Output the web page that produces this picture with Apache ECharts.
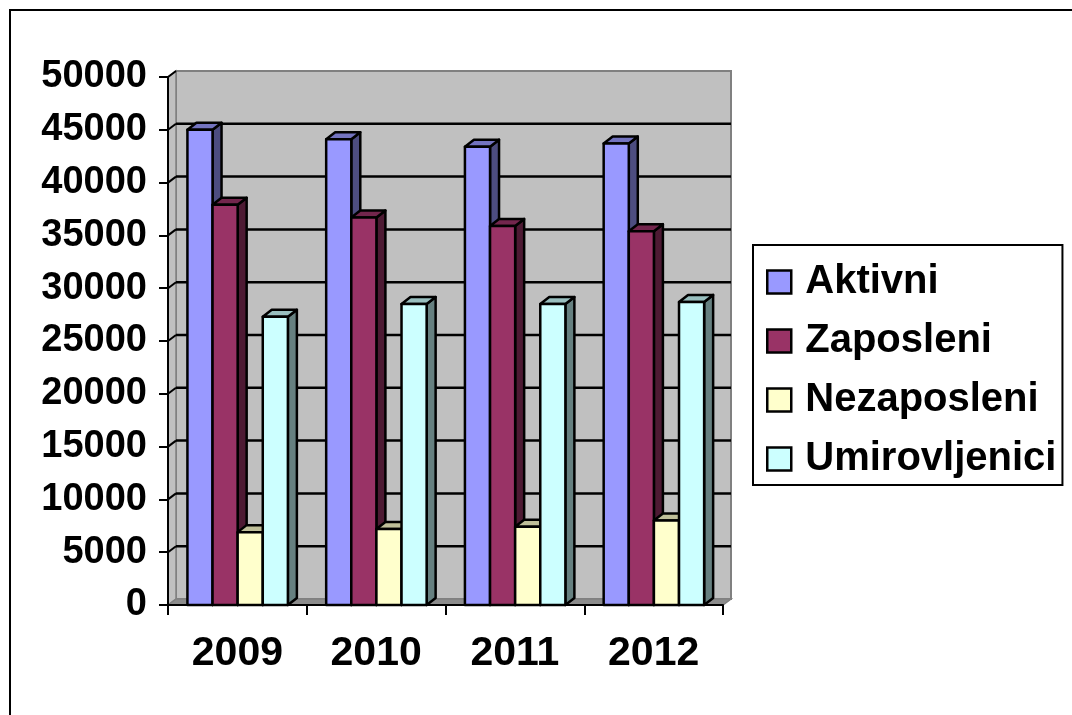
<!DOCTYPE html>
<html>
<head>
<meta charset="utf-8">
<script src="https://cdn.jsdelivr.net/npm/echarts@6/dist/echarts.min.js"></script>
<style>
  html, body { margin: 0; padding: 0; background: #fff; }
  #chart { width: 1072px; height: 715px; }
</style>
</head>
<body>
<div id="chart"></div>
<script>
// Data
const years = ['2009', '2010', '2011', '2012'];
const aktivni = [45000, 44100, 43400, 43700];
const zaposleni = [37900, 36700, 35900, 35400];
const nezaposleni = [6900, 7200, 7400, 8000];
const umirovljenici = [27300, 28500, 28500, 28700];
const yTicks = [0, 5000, 10000, 15000, 20000, 25000, 30000, 35000, 40000, 45000, 50000];

const FONT = "'Liberation Sans', Arial, sans-serif";

// 3D look: depth of walls and bars in pixels
const WALL_DX = 8, WALL_DY = -6;
const BAR_DX = 9, BAR_DY = -7;
const GAP_RATIO = 0.14;   // space before first bar in a category
const BAR_RATIO = 0.181;  // bar width as part of category width

function shade(hex, k) {
  const n = parseInt(hex.slice(1), 16);
  const r = Math.round(((n >> 16) & 255) * k);
  const g = Math.round(((n >> 8) & 255) * k);
  const b = Math.round((n & 255) * k);
  return 'rgb(' + r + ',' + g + ',' + b + ')';
}

function barRenderer(idx, color) {
  return function (params, api) {
    const cat = api.value(0);
    const val = api.value(1);
    const base = api.coord([cat, 0]);
    const top = api.coord([cat, val]);
    const catW = api.size([1, 0])[0];
    const bw = catW * BAR_RATIO;
    const x = base[0] - catW / 2 + catW * GAP_RATIO + idx * bw;
    const yt = top[1], yb = base[1];
    const stroke = { stroke: '#000', lineWidth: 2.5, lineJoin: 'round' };
    return {
      type: 'group',
      children: [
        {
          type: 'polygon',
          shape: { points: [[x + bw, yt], [x + bw + BAR_DX, yt + BAR_DY], [x + bw + BAR_DX, yb + BAR_DY], [x + bw, yb]] },
          style: Object.assign({ fill: shade(color, 0.5) }, stroke)
        },
        {
          type: 'polygon',
          shape: { points: [[x, yt], [x + BAR_DX, yt + BAR_DY], [x + bw + BAR_DX, yt + BAR_DY], [x + bw, yt]] },
          style: Object.assign({ fill: shade(color, 0.75) }, stroke)
        },
        {
          type: 'rect',
          shape: { x: x, y: yt, width: bw, height: yb - yt },
          style: Object.assign({ fill: color }, stroke)
        }
      ]
    };
  };
}

function wallsRenderer(params, api) {
  const cs = params.coordSys;
  const x0 = cs.x, x1 = cs.x + cs.width;
  const yT = cs.y, yB = cs.y + cs.height;
  return {
    type: 'group',
    children: [
      {
        type: 'rect',
        shape: { x: x0 + WALL_DX, y: yT + WALL_DY, width: cs.width, height: cs.height },
        style: { fill: '#C0C0C0', stroke: '#808080', lineWidth: 2 }
      },
      {
        type: 'polygon',
        shape: { points: [[x0, yB], [x0, yT], [x0 + WALL_DX, yT + WALL_DY], [x0 + WALL_DX, yB + WALL_DY]] },
        style: { fill: '#C0C0C0', stroke: '#808080', lineWidth: 1.5 }
      },
      {
        type: 'polygon',
        shape: { points: [[x0, yB], [x0 + WALL_DX, yB + WALL_DY], [x1 + WALL_DX, yB + WALL_DY], [x1, yB]] },
        style: { fill: '#8C8C8C', stroke: '#808080', lineWidth: 1.5 }
      }
    ]
  };
}

function gridLineRenderer(params, api) {
  const cs = params.coordSys;
  const v = api.value(0);
  const y = api.coord([0, v])[1];
  const x0 = cs.x, x1 = cs.x + cs.width;
  const children = [];
  if (v > 0) {
    children.push({
      type: 'line',
      shape: { x1: x0, y1: y, x2: x0 + WALL_DX, y2: y + WALL_DY },
      style: { stroke: '#000', lineWidth: 2 }
    });
  }
  if (v > 0 && v < 50000) {
    children.push({
      type: 'line',
      shape: { x1: x0 + WALL_DX, y1: y + WALL_DY, x2: x1 + WALL_DX, y2: y + WALL_DY },
      style: { stroke: '#000', lineWidth: 2.5 }
    });
  }
  return { type: 'group', children: children };
}

const chart = echarts.init(document.getElementById('chart'));

const seriesDefs = [
  { name: 'Aktivni', data: aktivni, color: '#9999FF' },
  { name: 'Zaposleni', data: zaposleni, color: '#993366' },
  { name: 'Nezaposleni', data: nezaposleni, color: '#FFFFCC' },
  { name: 'Umirovljenici', data: umirovljenici, color: '#CCFFFF' }
];

const barSeries = seriesDefs.map((s, i) => ({
  name: s.name,
  type: 'custom',
  z: 3,
  itemStyle: { color: s.color, borderColor: '#000', borderWidth: 2.5 },
  renderItem: barRenderer(i, s.color),
  data: s.data.map((v, j) => [j, v])
}));

chart.setOption({
  animation: false,
  backgroundColor: '#fff',
  graphic: [{
    type: 'rect',
    shape: { x: 10, y: 10, width: 1200, height: 900 },
    style: { fill: 'none', stroke: '#000', lineWidth: 2 }
  }],
  grid: { left: 168, right: 349, top: 77, bottom: 110 },
  legend: {
    orient: 'vertical',
    left: 753,
    top: 245,
    data: seriesDefs.map(s => s.name),
    icon: 'rect',
    itemWidth: 24,
    itemHeight: 23,
    itemGap: 19,
    padding: [17, 6, 6, 13],
    borderColor: '#000',
    borderWidth: 2,
    itemStyle: { borderColor: '#000', borderWidth: 2.5 },
    textStyle: { fontSize: 40, fontWeight: 'bold', color: '#000', fontFamily: FONT, padding: [0, 0, 0, 9] }
  },
  xAxis: {
    type: 'category',
    data: years,
    z: 5,
    axisLine: { lineStyle: { color: '#000', width: 2 } },
    axisTick: { show: true, length: 10, lineStyle: { color: '#000', width: 2 } },
    axisLabel: { fontSize: 41, fontWeight: 'bold', color: '#000', fontFamily: FONT, margin: 28 },
    splitLine: { show: false }
  },
  yAxis: {
    type: 'value',
    min: 0,
    max: 50000,
    interval: 5000,
    z: 5,
    axisLine: { show: true, lineStyle: { color: '#000', width: 2 } },
    axisTick: { show: true, length: 9, lineStyle: { color: '#000', width: 2 } },
    axisLabel: {
      fontSize: 38, fontWeight: 'bold', color: '#000', fontFamily: FONT, margin: 21,
      formatter: v => String(v)
    },
    splitLine: { show: false }
  },
  series: [
    {
      name: 'walls',
      type: 'custom',
      z: 1,
      silent: true,
      renderItem: wallsRenderer,
      data: [[0]]
    },
    {
      name: 'gridlines',
      type: 'custom',
      z: 2,
      silent: true,
      renderItem: gridLineRenderer,
      data: yTicks.map(v => [v])
    }
  ].concat(barSeries)
});
</script>
</body>
</html>
